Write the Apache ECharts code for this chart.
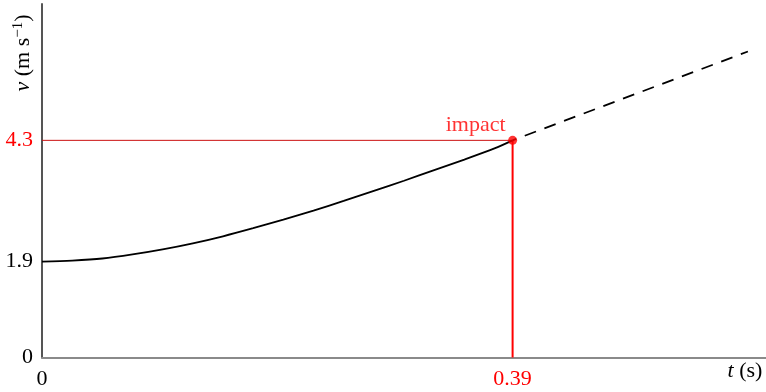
<!DOCTYPE html>
<html>
<head>
<meta charset="utf-8">
<script src="https://cdn.jsdelivr.net/npm/echarts@6/dist/echarts.min.js"></script>
<style>
  html, body { margin: 0; padding: 0; background: #fff; }
  #chart { width: 766px; height: 392px; }
</style>
</head>
<body>
<div id="chart"></div>
<script>
// Speed of the ball before impact (s, m/s)
const timeValues  = [0, 0.025, 0.05, 0.075, 0.10, 0.125, 0.15, 0.175, 0.20,
                     0.225, 0.25, 0.275, 0.30, 0.325, 0.35, 0.375, 0.39];
const speedValues = [1.90, 1.92, 1.96, 2.04, 2.14, 2.26, 2.40, 2.56, 2.73,
                     2.91, 3.10, 3.30, 3.50, 3.71, 3.92, 4.14, 4.30];

// Continuation after impact (dashed)
const extTime  = [0.39, 0.585];
const extSpeed = [4.30, 6.06];

// Impact point
const impactTime = 0.39;
const impactSpeed = 4.3;

// Tick labels
const xTicks = [0, 0.39];
const yTicks = [0, 1.9, 4.3];

const FONT = '"Liberation Serif", "DejaVu Serif", serif';
const FS = 22;
const RED = '#ff0000';

const pairs = (xs, ys) => xs.map((x, i) => [x, ys[i]]);

const chart = echarts.init(document.getElementById('chart'), null, { renderer: 'canvas' });

chart.setOption({
  animation: false,
  backgroundColor: '#ffffff',
  grid: { left: 42, right: 0, top: 4, bottom: 34.5, containLabel: false },
  xAxis: {
    type: 'value', min: 0, max: 0.6,
    axisLine: { show: true, onZero: false, lineStyle: { color: '#8a8a8a', width: 2 } },
    axisTick: { show: false },
    splitLine: { show: false },
    axisLabel: {
      customValues: xTicks,
      margin: 11,
      fontFamily: FONT, fontSize: FS,
      formatter: v => Math.abs(v - impactTime) < 1e-9 ? '{r|' + v + '}' : '{k|' + v + '}',
      rich: {
        r: { color: RED, fontFamily: FONT, fontSize: FS },
        k: { color: '#000', fontFamily: FONT, fontSize: FS }
      }
    }
  },
  yAxis: {
    type: 'value', min: 0, max: 7,
    axisLine: { show: true, onZero: false, lineStyle: { color: '#555555', width: 2 } },
    axisTick: { show: false },
    splitLine: { show: false },
    axisLabel: {
      customValues: yTicks,
      margin: 9,
      fontFamily: FONT, fontSize: FS,
      formatter: v => Math.abs(v - impactSpeed) < 1e-9 ? '{r|' + v + '}' : '{k|' + v + '}',
      rich: {
        r: { color: RED, fontFamily: FONT, fontSize: FS },
        k: { color: '#000', fontFamily: FONT, fontSize: FS }
      }
    }
  },
  series: [
    {
      type: 'line',
      data: [[0, impactSpeed], [impactTime, impactSpeed]],
      symbol: 'none',
      lineStyle: { color: '#cc1111', width: 1 },
      z: 2
    },
    {
      type: 'line',
      data: [[impactTime, impactSpeed], [impactTime, 0]],
      symbol: 'none',
      lineStyle: { color: RED, width: 2 },
      z: 2
    },
    {
      type: 'line',
      data: pairs(timeValues, speedValues),
      smooth: 0.3,
      symbol: 'none',
      lineStyle: { color: '#000', width: 1.8 },
      z: 3
    },
    {
      type: 'line',
      data: pairs(extTime, extSpeed),
      symbol: 'none',
      lineStyle: { color: '#000', width: 1.8, type: [12, 9], dashOffset: 8 },
      z: 3
    },
    {
      type: 'scatter',
      data: [[impactTime, impactSpeed]],
      symbol: 'circle',
      symbolSize: 9,
      itemStyle: { color: RED },
      label: {
        show: true,
        position: 'top',
        offset: [-37, 0],
        distance: 0,
        formatter: 'impact',
        color: RED,
        fontFamily: FONT,
        fontSize: FS
      },
      z: 5
    }
  ],
  graphic: [
    {
      type: 'text',
      x: 23, y: 53,
      rotation: Math.PI / 2,
      style: {
        text: '{i|v} (m s{s|−1})',
        align: 'center',
        verticalAlign: 'middle',
        fill: '#000',
        fontFamily: FONT,
        fontSize: FS,
        rich: {
          i: { fontStyle: 'italic', fontFamily: FONT, fontSize: FS },
          s: { fontFamily: FONT, fontSize: 15, verticalAlign: 'top', padding: [0, 0, 10, 0] }
        }
      }
    },
    {
      type: 'text',
      x: 745, y: 371,
      style: {
        text: '{i|t} (s)',
        align: 'center',
        verticalAlign: 'middle',
        fill: '#000',
        fontFamily: FONT,
        fontSize: FS,
        rich: {
          i: { fontStyle: 'italic', fontFamily: FONT, fontSize: FS }
        }
      }
    }
  ]
});
</script>
</body>
</html>
